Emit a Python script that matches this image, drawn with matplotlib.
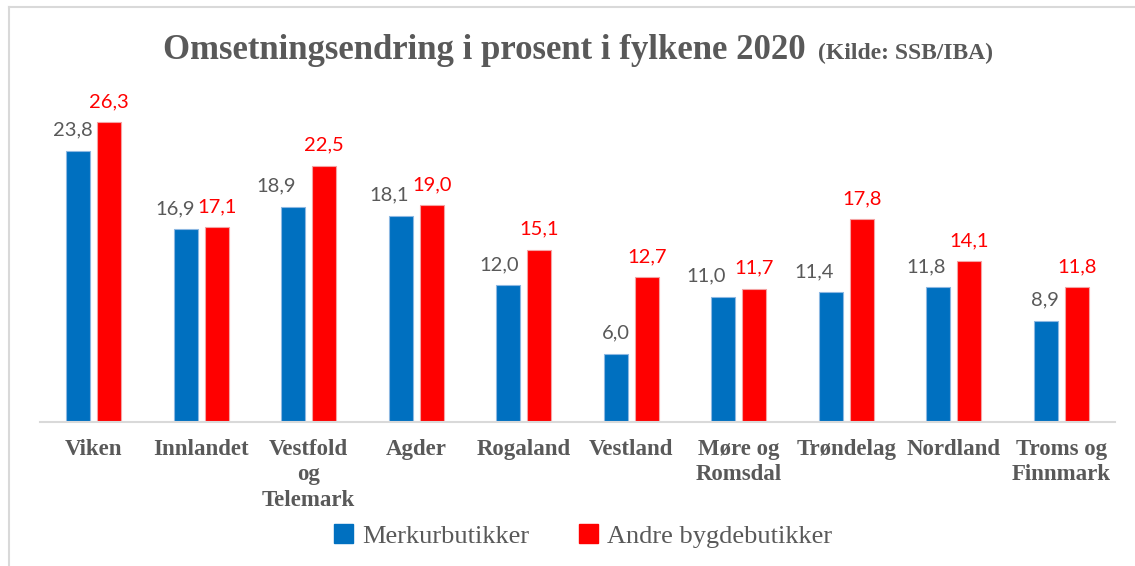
import numpy as np
import matplotlib.pyplot as plt
from matplotlib.lines import Line2D
from matplotlib.patches import Patch

# data
fylker = ['Viken', 'Innlandet', 'Vestfold\nog\nTelemark', 'Agder', 'Rogaland',
          'Vestland', 'Møre og\nRomsdal', 'Trøndelag', 'Nordland', 'Troms og\nFinnmark']
merkur = [23.8, 16.9, 18.9, 18.1, 12.0, 6.0, 11.0, 11.4, 11.8, 8.9]
andre = [26.3, 17.1, 22.5, 19.0, 15.1, 12.7, 11.7, 17.8, 14.1, 11.8]
serier = ['Merkurbutikker', 'Andre bygdebutikker']

# small manual nudges (px) of the blue value labels, as in the original
blue_nudge = [-6, -11, -17, -12, -9, 0, -17, -17, -12, -1]

BLUE = '#0070C0'
RED = '#FF0000'
GREY = '#595959'
SERIF = 'Liberation Serif'
SANS = 'Lato'

W, H = 1135, 566
fig = plt.figure(figsize=(W / 100, H / 100), dpi=100)
ax = fig.add_axes([40 / W, 144 / H, 1075 / W, 28 * 11.4 / H])

x = np.arange(len(fylker))
off = 0.143
bw = 0.223
ax.bar(x - off, merkur, bw, color=BLUE, edgecolor='#8DB8E2', linewidth=0.8)
ax.bar(x + off, andre, bw, color=RED, edgecolor='#F4A3A3', linewidth=0.8)

def fmt(v):
    return ('%.1f' % v).replace('.', ',')

for i in range(len(fylker)):
    ax.annotate(fmt(merkur[i]), (x[i] - off, merkur[i]), xytext=(blue_nudge[i] * 0.72, 10.8),
                textcoords='offset points', ha='center', va='baseline',
                fontsize=14.5, color=GREY, family=SANS)
    ax.annotate(fmt(andre[i]), (x[i] + off, andre[i]), xytext=(0, 10.8),
                textcoords='offset points', ha='center', va='baseline',
                fontsize=14.5, color=RED, family=SANS)

ax.set_xlim(-0.5, 9.5)
ax.set_ylim(0, 28)
ax.set_yticks([])
ax.set_xticks(x)
ax.set_xticklabels(fylker, fontsize=16.5, fontweight='bold', color=GREY,
                   family=SERIF, linespacing=1.3)
ax.tick_params(axis='x', length=0, pad=12)
for s in ['top', 'right', 'left']:
    ax.spines[s].set_visible(False)
ax.spines['bottom'].set_color('#D9D9D9')
ax.spines['bottom'].set_linewidth(1.5)

# title in two sizes, centred over the plot
renderer = fig.canvas.get_renderer()
ty = 1 - 59 / H
t1 = fig.text(0, ty, 'Omsetningsendring i prosent i fylkene 2020', fontsize=25,
              fontweight='bold', color=GREY, family=SERIF, va='baseline')
t2 = fig.text(0, ty, '(Kilde: SSB/IBA)', fontsize=17, fontweight='bold',
              color=GREY, family=SERIF, va='baseline')
w1 = t1.get_window_extent(renderer).width
w2 = t2.get_window_extent(renderer).width
gap = 12
start = 578 - (w1 + gap + w2) / 2
t1.set_x(start / W)
t2.set_x((start + w1 + gap) / W)

handles = [Patch(color=BLUE), Patch(color=RED)]
fig.legend(handles, serier, loc='center', bbox_to_anchor=(583 / W, 1 - 536 / H),
           ncol=2, frameon=False, handlelength=0.7, handleheight=0.7,
           handletextpad=0.35, columnspacing=1.9,
           prop={'family': SERIF, 'size': 19}, labelcolor=GREY)

# chart frame (only top and left edges are visible in the crop)
fig.add_artist(Line2D([9 / W, 1], [1 - 7 / H, 1 - 7 / H], color='#D9D9D9', lw=1.5))
fig.add_artist(Line2D([9 / W, 9 / W], [0, 1 - 7 / H], color='#D9D9D9', lw=1.5))

fig.savefig('out.png', dpi=100)
